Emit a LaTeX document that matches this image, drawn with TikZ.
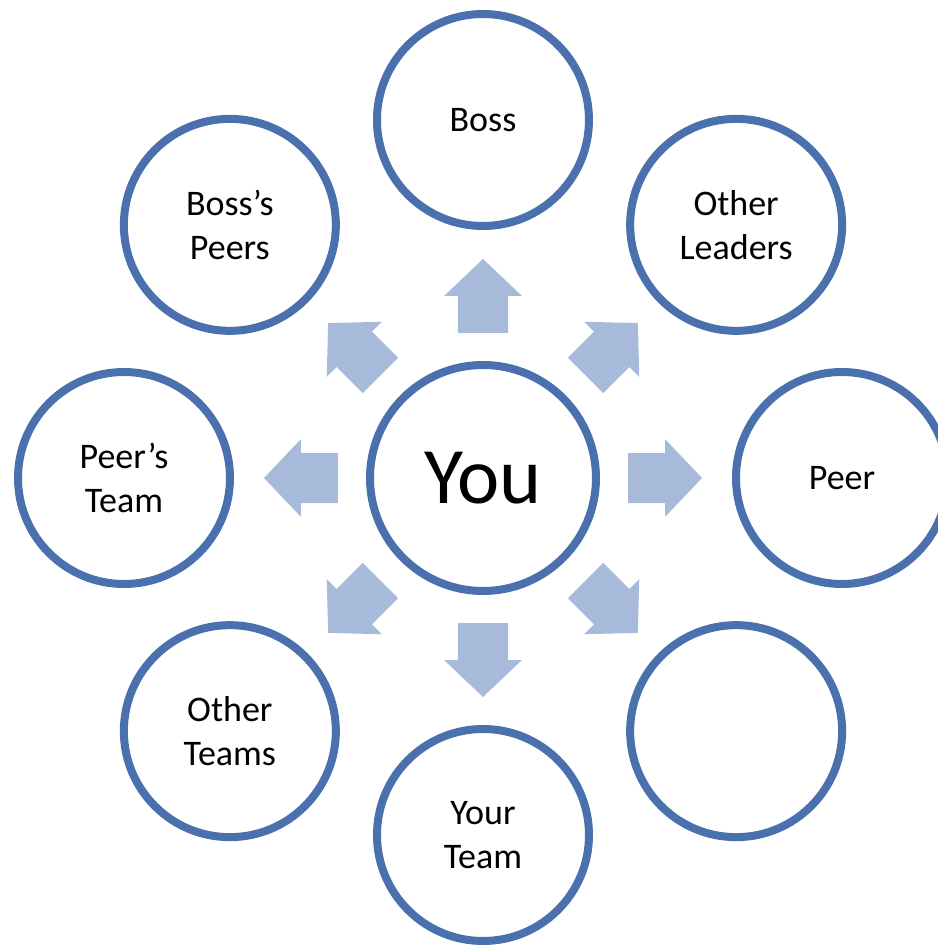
\documentclass[tikz,border=0pt]{standalone}
\usepackage{fontspec}
\setmainfont{Carlito}
\usetikzlibrary{positioning,calc}
\definecolor{cRing}{HTML}{4A70AE}
\definecolor{cArrow}{HTML}{A8BAD9}

\begin{document}
\begin{tikzpicture}[x=1pt,y=1pt,
      ring/.style={circle,draw=cRing,line width=8pt,fill=white,minimum size=212pt,
                   align=center,inner sep=0pt,font=\fontsize{36}{44}\selectfont},
      blockarr/.style={fill=cArrow}]
    \useasboundingbox (-483,-467) rectangle (454,478);
    \node[ring,minimum size=226pt,font=\fontsize{80}{96}\selectfont] (you) at (0,0) {You};
    \node[ring] (boss)  at (90:358)   {Boss};
    \node[ring] (lead)  at (45:358)   {Other\\Leaders};
    \node[ring] (peer)  at (0:359)    {Peer};
    \node[ring] (blank) at (-45:358)  {};
    \node[ring] (team)  at (-90:357)  {Your\\Team};
    \node[ring] (oteam) at (-135:358) {Other\\Teams};
    \node[ring] (pteam) at (180:359)  {Peer’s\\Team};
    \node[ring] (bpeer) at (135:358)  {Boss’s\\Peers};
    % block arrows pointing out of the centre
    \foreach \a in {0,45,...,315}
      \fill[blockarr,rotate=\a] (145,-25) -- (182,-25) -- (182,-39) -- (219,0)
        -- (182,39) -- (182,25) -- (145,25) -- cycle;
  \end{tikzpicture}
\end{document}
